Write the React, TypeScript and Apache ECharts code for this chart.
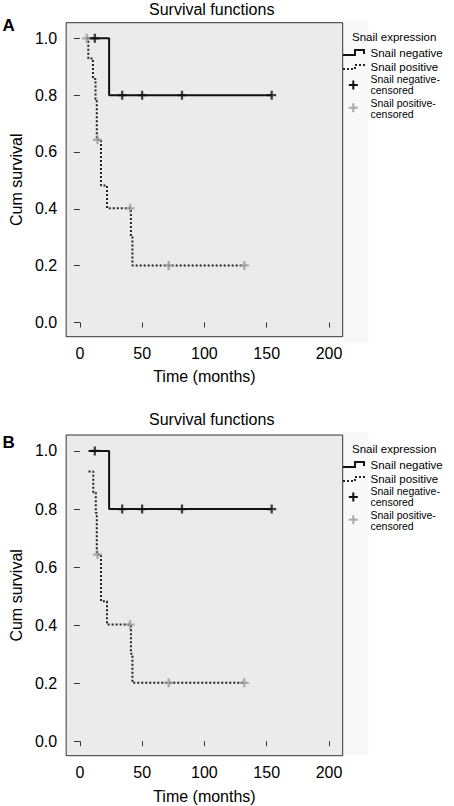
import React, { useEffect, useRef } from "react";
import * as echarts from "echarts";

// ---- data ----
const xTicks = [0, 50, 100, 150, 200];
const yTicks = [0, 0.2, 0.4, 0.6, 0.8, 1.0];

// Panel A
const negLineA = [[7, 1], [23.5, 0.8], [154, 0.8]];
const negCensA = [[12, 1], [34, 0.8], [50, 0.8], [82, 0.8], [154, 0.8]];
const posLineA = [
  [5.5, 1], [6.8, 0.929], [10.5, 0.857], [12.6, 0.786], [13.6, 0.643],
  [17, 0.482], [21.8, 0.402], [41, 0.301], [42.2, 0.201], [132, 0.201],
];
const posCensA = [[5.5, 1], [14.2, 0.643], [40.3, 0.402], [71.3, 0.201], [132, 0.201]];

// Panel B
const negLineB = [[7, 1], [23.5, 0.8], [154, 0.8]];
const negCensB = [[12, 1], [34, 0.8], [50, 0.8], [82, 0.8], [154, 0.8]];
const posLineB = [
  [7, 0.929], [10.8, 0.857], [12.8, 0.786], [13.6, 0.643],
  [17, 0.482], [21.8, 0.402], [41, 0.301], [42.2, 0.201], [132, 0.201],
];
const posCensB = [[14.2, 0.643], [40.3, 0.402], [71.3, 0.201], [132, 0.201]];

const titleText = "Survival functions";
const xName = "Time (months)";
const yName = "Cum survival";
const legendTitle = "Snail expression";
const legendItems = ["Snail negative", "Snail positive"];
const legendCensored = [["Snail negative-", "censored"], ["Snail positive-", "censored"]];

const FONT = "'Liberation Sans', Arial, Helvetica, sans-serif";
const PLUS = "path://M3,0H5V3H8V5H5V8H3V5H0V3H3Z";

function makeAxes(gridIndex: number, nameGapX: number) {
  const xAxis = {
    type: "value",
    gridIndex,
    min: -11,
    max: 211,
    name: xName,
    nameLocation: "middle",
    nameGap: nameGapX,
    nameTextStyle: { fontSize: 16, color: "#000", fontFamily: FONT },
    axisLine: { show: false },
    splitLine: { show: false },
    axisTick: { show: true, length: 5, customValues: xTicks, lineStyle: { color: "#333", width: 1 } },
    axisLabel: {
      show: true, customValues: xTicks, fontSize: 16, color: "#000", fontFamily: FONT, margin: 9,
      formatter: (v: number) => String(v),
    },
  };
  const yAxis = {
    type: "value",
    gridIndex,
    min: -0.05,
    max: 1.055,
    name: yName,
    nameLocation: "middle",
    nameGap: 39,
    nameTextStyle: { fontSize: 16, color: "#000", fontFamily: FONT },
    axisLine: { show: false },
    splitLine: { show: false },
    axisTick: { show: true, length: 6, customValues: yTicks, lineStyle: { color: "#333", width: 1 } },
    axisLabel: {
      show: true, customValues: yTicks, fontSize: 16, color: "#000", fontFamily: FONT, margin: 9,
      formatter: (v: number) => v.toFixed(1),
    },
  };
  return { xAxis, yAxis };
}

function makeSeries(idx: number, negLine: number[][], negCens: number[][], posLine: number[][], posCens: number[][]) {
  return [
    {
      type: "line", xAxisIndex: idx, yAxisIndex: idx, data: negLine, step: "end",
      showSymbol: false, symbol: "none", lineStyle: { color: "#111", width: 2, type: "solid" }, z: 3,
    },
    {
      type: "line", xAxisIndex: idx, yAxisIndex: idx, data: posLine, step: "end",
      showSymbol: false, symbol: "none", lineStyle: { color: "#222", width: 2, type: [2, 2] }, z: 2,
    },
    {
      type: "scatter", xAxisIndex: idx, yAxisIndex: idx, data: negCens, symbol: PLUS, symbolSize: 9,
      itemStyle: { color: "#111" }, z: 5,
    },
    {
      type: "scatter", xAxisIndex: idx, yAxisIndex: idx, data: posCens, symbol: PLUS, symbolSize: 9,
      itemStyle: { color: "#999" }, z: 4,
    },
  ];
}

function plusRects(cx: number, cy: number, color: string) {
  return [
    { type: "rect", shape: { x: cx - 1, y: cy - 4.5, width: 2, height: 9 }, style: { fill: color } },
    { type: "rect", shape: { x: cx - 4.5, y: cy - 1, width: 9, height: 2 }, style: { fill: color } },
  ];
}

function legendGraphics(oy: number) {
  const t = (text: string, x: number, y: number, size: number) => ({
    type: "text",
    x, y: y + oy,
    style: { text, fontSize: size, fontFamily: FONT, fill: "#000", verticalAlign: "middle", align: "left" },
  });
  return [
    { type: "rect", shape: { x: 343.5, y: 20 + oy, width: 25, height: 323 }, style: { fill: "#f8f8f8" }, z: -1 },
    t(legendTitle, 352, 36.7, 11.5),
    {
      type: "polyline",
      shape: { points: [[343, 55 + oy], [355, 55 + oy], [355, 50 + oy], [364, 50 + oy], [364, 54 + oy]] },
      style: { stroke: "#111", lineWidth: 2, fill: null },
    },
    {
      type: "polyline",
      shape: { points: [[343, 69 + oy], [355, 69 + oy], [355, 65 + oy], [364, 65 + oy], [364, 68 + oy]] },
      style: { stroke: "#222", lineWidth: 2, fill: null, lineDash: [2, 2] },
    },
    t(legendItems[0], 370.5, 52.5, 11.5),
    t(legendItems[1], 370.5, 66.5, 11.5),
    t(legendCensored[0][0], 370.5, 78.8, 10.5),
    t(legendCensored[0][1], 370.5, 89.8, 10.5),
    ...plusRects(353.3, 85 + oy, "#111"),
    t(legendCensored[1][0], 370.5, 102.5, 10.5),
    t(legendCensored[1][1], 370.5, 113.5, 10.5),
    ...plusRects(353.3, 107.7 + oy, "#aaa"),
  ];
}

export default function App() {
  const ref = useRef<HTMLDivElement>(null);
  useEffect(() => {
    if (!ref.current) return;
    const chart = echarts.init(ref.current, null, { renderer: "svg" });
    const a = makeAxes(0, 32);
    const b = makeAxes(1, 33);
    const gridBase = { left: 62, width: 280.7, show: true, backgroundColor: "#ebebeb", borderColor: "#333", borderWidth: 1 };
    const option = {
      animation: false,
      backgroundColor: "#fff",
      grid: [
        { ...gridBase, top: 22.7, height: 314 },
        { ...gridBase, top: 435, height: 320.7 },
      ],
      xAxis: [a.xAxis, b.xAxis],
      yAxis: [a.yAxis, b.yAxis],
      series: [
        ...makeSeries(0, negLineA, negCensA, posLineA, posCensA),
        ...makeSeries(1, negLineB, negCensB, posLineB, posCensB),
      ],
      graphic: [
        {
          type: "text", x: 211.7, y: 9.5,
          style: { text: titleText, fontSize: 16, fontFamily: FONT, fill: "#000", align: "center", verticalAlign: "middle" },
        },
        {
          type: "text", x: 211.7, y: 419.5,
          style: { text: titleText, fontSize: 16, fontFamily: FONT, fill: "#000", align: "center", verticalAlign: "middle" },
        },
        {
          type: "text", x: 2.5, y: 25.5,
          style: { text: "A", fontSize: 17, fontWeight: "bold", fontFamily: FONT, fill: "#000", align: "left", verticalAlign: "middle" },
        },
        {
          type: "text", x: 2.5, y: 442.7,
          style: { text: "B", fontSize: 17, fontWeight: "bold", fontFamily: FONT, fill: "#000", align: "left", verticalAlign: "middle" },
        },
        ...legendGraphics(0),
        ...legendGraphics(412),
      ],
    };
    chart.setOption(option as any);
    return () => chart.dispose();
  }, []);
  return (
    <div
      ref={ref}
      style={{ position: "absolute", left: 0, top: 0, width: 454, height: 806, background: "#fff" }}
    />
  );
}
